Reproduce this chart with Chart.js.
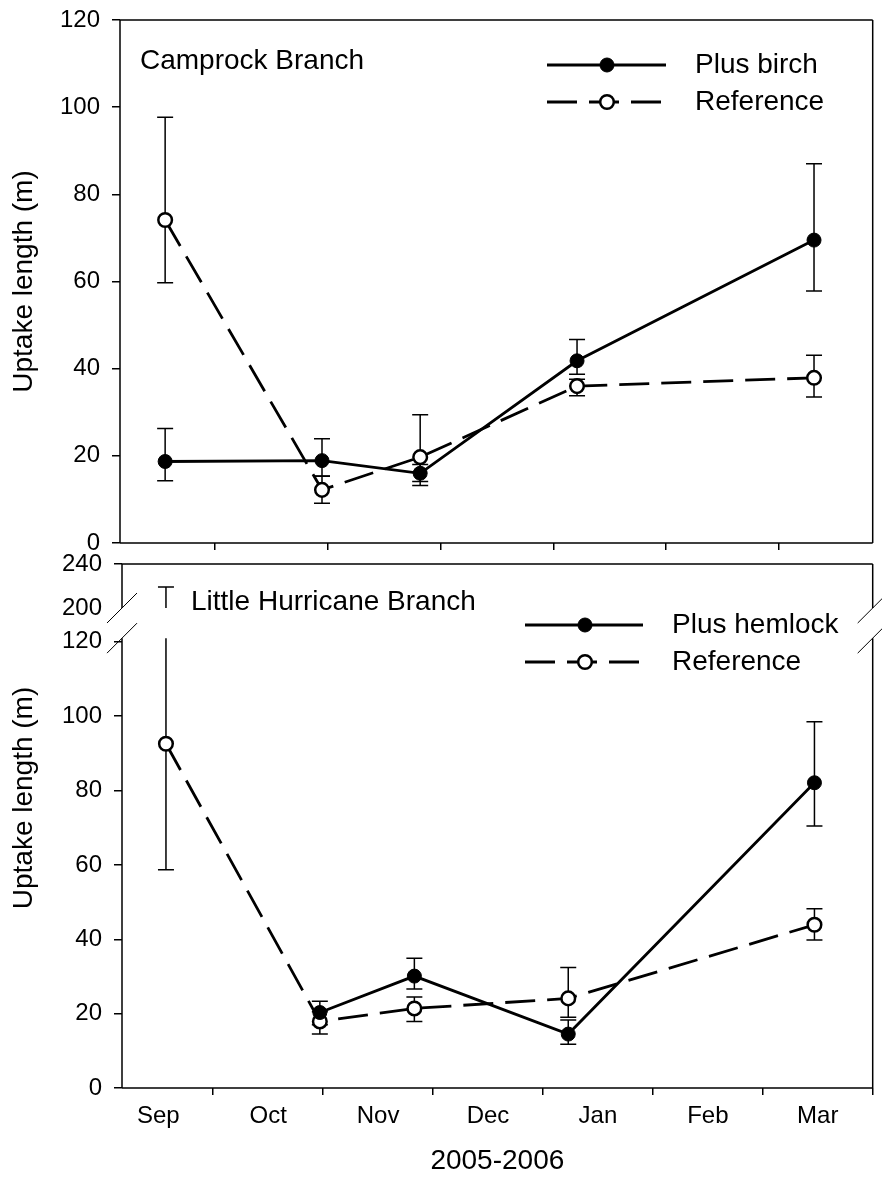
<!DOCTYPE html>
<html>
<head>
<meta charset="utf-8">
<script src="https://cdn.jsdelivr.net/npm/chart.js@4.4.1/dist/chart.umd.min.js"></script>
<style>
  html, body { margin: 0; padding: 0; background: #fff; }
  #wrap { position: relative; width: 882px; height: 1178px; }
  #topChart { position: absolute; left: 0; top: 0; }
  #bottomChart { position: absolute; left: 0; top: 548px; }
</style>
</head>
<body>
<div id="wrap">
  <canvas id="topChart" width="882" height="556"></canvas>
  <canvas id="bottomChart" width="882" height="630"></canvas>
</div>
<script>
// x values are months counted from 1 Sep 2005 (1 = Oct 1, 2 = Nov 1, ...)
var monthNames = ['Sep', 'Oct', 'Nov', 'Dec', 'Jan', 'Feb', 'Mar'];

// Camprock Branch
var campDates = [0.56, 1.95, 2.82, 4.21, 6.31];
var campBirch = [18.7, 18.9, 16.0, 41.8, 69.5];
var campBirchHi = [26.3, 23.9, 18.0, 46.7, 87.0];
var campBirchLo = [14.3, 15.4, 13.2, 38.7, 57.8];
var campRef = [74.1, 12.2, 19.7, 36.0, 37.9];
var campRefHi = [97.7, 15.3, 29.4, 37.6, 43.1];
var campRefLo = [59.7, 9.1, 14.1, 33.8, 33.5];

// Little Hurricane Branch
var lhDates = [0.57, 1.97, 2.83, 4.23, 6.47];
var lhHemlock = [null, 20.3, 30.1, 14.5, 82.1];
var lhHemlockHi = [null, 23.3, 34.9, 18.3, 98.5];
var lhHemlockLo = [null, 17.0, 26.6, 11.8, 70.5];
var lhRef = [92.6, 17.9, 21.4, 24.1, 43.9];
var lhRefHi = [219, 20.5, 24.5, 32.4, 48.2];
var lhRefLo = [58.7, 14.5, 17.9, 19.0, 39.8];

var topYTicks = [0, 20, 40, 60, 80, 100, 120];
var bottomYTicks = [0, 20, 40, 60, 80, 100, 120, 200, 240];

// broken y axis of the lower panel
var breakLow = 121, breakHigh = 200, breakGap = 8.1, upperScale = 0.296;
function toAxis(v) {
    if (v <= breakLow) return v;
    if (v >= breakHigh) return breakLow + breakGap + (v - breakHigh) * upperScale;
    return breakLow + (v - breakLow) / (breakHigh - breakLow) * breakGap;
}
function fromAxis(t) {
    if (t <= breakLow) return t;
    if (t >= breakLow + breakGap) return breakHigh + (t - breakLow - breakGap) / upperScale;
    return breakLow + (t - breakLow) / breakGap * (breakHigh - breakLow);
}
function same(v) { return v; }

var FONT = '"Liberation Sans", Arial, sans-serif';

function points(xs, ys, map) {
    var out = [];
    xs.forEach(function(x, i) {
        if (ys[i] != null) out.push({ x: x, y: map(ys[i]) });
    });
    return out;
}

function filledSet(label, xs, ys, map) {
    return {
        label: label, data: points(xs, ys, map),
        borderColor: '#000', borderWidth: 2.8,
        pointRadius: 7, pointBorderWidth: 1,
        pointBackgroundColor: '#000', pointBorderColor: '#000',
        tension: 0
    };
}
function openSet(label, xs, ys, map) {
    return {
        label: label, data: points(xs, ys, map),
        borderColor: '#000', borderWidth: 2.8, borderDash: [30, 12],
        pointRadius: 6.8, pointBorderWidth: 2.5,
        pointBackgroundColor: '#fff', pointBorderColor: '#000',
        tension: 0
    };
}

// keep the chart area exactly where the fixed axis sizes put it
function noScalePadding(scale) {
    scale.paddingTop = 0;
    scale.paddingBottom = 0;
    scale.paddingLeft = 0;
    scale.paddingRight = 0;
}

// error bars, split where the axis is broken
var errorBars = {
    id: 'errorBars',
    beforeDatasetsDraw: function(chart, args, opts) {
        var ctx = chart.ctx, xs = chart.scales.x, ys = chart.scales.y;
        var map = opts.map || same;
        ctx.save();
        ctx.strokeStyle = '#000';
        ctx.lineWidth = 1.5;
        ctx.setLineDash([]);
        opts.sets.forEach(function(set) {
            set.x.forEach(function(xv, i) {
                if (set.hi[i] == null) return;
                var px = xs.getPixelForValue(xv);
                var lo = set.lo[i], hi = set.hi[i];
                var segs = [];
                if (opts.broken && lo < breakLow && hi > breakHigh) {
                    segs.push([lo, breakLow, true, false]);
                    segs.push([breakHigh, hi, false, true]);
                } else {
                    segs.push([lo, hi, true, true]);
                }
                segs.forEach(function(s) {
                    var y1 = ys.getPixelForValue(map(s[0]));
                    var y2 = ys.getPixelForValue(map(s[1]));
                    ctx.beginPath();
                    ctx.moveTo(px, y1); ctx.lineTo(px, y2);
                    if (s[2]) { ctx.moveTo(px - 8, y1); ctx.lineTo(px + 8, y1); }
                    if (s[3]) { ctx.moveTo(px - 8, y2); ctx.lineTo(px + 8, y2); }
                    ctx.stroke();
                });
            });
        });
        ctx.restore();
    }
};

// frame, break marks, panel name and legend
var decorations = {
    id: 'decorations',
    afterDraw: function(chart, args, opts) {
        var ctx = chart.ctx, a = chart.chartArea, ys = chart.scales.y;
        ctx.save();
        ctx.strokeStyle = '#000';
        ctx.lineWidth = 1.5;
        ctx.setLineDash([]);
        ctx.beginPath();
        ctx.moveTo(a.left, a.top); ctx.lineTo(a.right, a.top);
        ctx.moveTo(a.left, a.bottom); ctx.lineTo(a.right, a.bottom);
        if (opts.broken) {
            var yb1 = ys.getPixelForValue(toAxis(breakHigh));
            var yb2 = ys.getPixelForValue(toAxis(breakLow));
            [a.left, a.right].forEach(function(x) {
                ctx.moveTo(x, a.top); ctx.lineTo(x, yb1);
                ctx.moveTo(x, yb2); ctx.lineTo(x, a.bottom);
            });
            ctx.stroke();
            ctx.lineWidth = 1;
            ctx.beginPath();
            [a.left, a.right].forEach(function(x) {
                [yb1, yb2].forEach(function(y) {
                    ctx.moveTo(x - 15, y + 15); ctx.lineTo(x + 15, y - 15);
                });
            });
            ctx.stroke();
        } else {
            ctx.moveTo(a.left, a.top); ctx.lineTo(a.left, a.bottom);
            ctx.moveTo(a.right, a.top); ctx.lineTo(a.right, a.bottom);
            ctx.stroke();
        }

        ctx.fillStyle = '#000';
        ctx.font = '28px ' + FONT;
        ctx.textAlign = 'left';
        ctx.textBaseline = 'middle';
        ctx.fillText(opts.name, opts.nameX, opts.nameY);

        if (opts.yTitle) {
            ctx.save();
            ctx.translate(opts.yTitle.x, opts.yTitle.y);
            ctx.rotate(-Math.PI / 2);
            ctx.textAlign = 'center';
            ctx.fillText(opts.yTitle.text, 0, 0);
            ctx.restore();
        }

        var lg = opts.legend;
        chart.data.datasets.forEach(function(ds, i) {
            var y = lg.y + i * lg.dy;
            ctx.strokeStyle = '#000';
            ctx.lineWidth = ds.borderWidth;
            ctx.setLineDash(ds.borderDash || []);
            ctx.beginPath();
            ctx.moveTo(lg.x0, y); ctx.lineTo(lg.x1, y);
            ctx.stroke();
            ctx.setLineDash([]);
            ctx.beginPath();
            ctx.arc(lg.xm, y, ds.pointRadius, 0, Math.PI * 2);
            ctx.fillStyle = ds.pointBackgroundColor;
            ctx.fill();
            ctx.lineWidth = ds.pointBorderWidth;
            ctx.strokeStyle = ds.pointBorderColor;
            ctx.stroke();
            ctx.fillStyle = '#000';
            ctx.fillText(ds.label, lg.tx, y);
        });
        ctx.restore();
    }
};

function tickMarkColor(c) {
    return Number.isInteger(c.tick.value) ? '#000' : 'rgba(0,0,0,0)';
}

// top panel
new Chart(document.getElementById('topChart').getContext('2d'), {
    type: 'line',
    data: {
        datasets: [
            filledSet('Plus birch', campDates, campBirch, same),
            openSet('Reference', campDates, campRef, same)
        ]
    },
    options: {
        responsive: false,
        animation: false,
        layout: { padding: { top: 20, right: 8, bottom: 0, left: 0 } },
        scales: {
            x: {
                type: 'linear', min: 0.16, max: 6.83,
                afterBuildTicks: function(scale) {
                    scale.ticks = [1, 2, 3, 4, 5, 6].map(function(v) { return { value: v }; });
                },
                afterFit: function(scale) { scale.height = 13; noScalePadding(scale); },
                border: { display: false },
                grid: { drawOnChartArea: false, tickLength: 7, lineWidth: 1.5, tickColor: '#000' },
                ticks: { autoSkip: false, maxRotation: 0, callback: function() { return ''; } }
            },
            y: {
                min: 0, max: 120,
                afterBuildTicks: function(scale) {
                    scale.ticks = topYTicks.map(function(v) { return { value: v }; });
                },
                afterFit: function(scale) { scale.width = 120; noScalePadding(scale); },
                border: { display: false },
                grid: { drawOnChartArea: false, tickLength: 8, lineWidth: 1.5, tickColor: '#000' },
                ticks: { padding: 12, color: '#000', font: { size: 24, family: FONT } },
                title: {
                    display: true, text: 'Uptake length (m)', color: '#000',
                    font: { size: 28, family: FONT }, padding: { top: 7, bottom: 0 }
                }
            }
        },
        plugins: {
            legend: { display: false },
            tooltip: { enabled: false },
            errorBars: {
                sets: [
                    { x: campDates, hi: campBirchHi, lo: campBirchLo },
                    { x: campDates, hi: campRefHi, lo: campRefLo }
                ]
            },
            decorations: {
                name: 'Camprock Branch', nameX: 140, nameY: 61,
                legend: { x0: 547, x1: 666, xm: 607, tx: 695, y: 65, dy: 37 }
            }
        }
    },
    plugins: [errorBars, decorations]
});

// bottom panel
new Chart(document.getElementById('bottomChart').getContext('2d'), {
    type: 'line',
    data: {
        datasets: [
            filledSet('Plus hemlock', lhDates, lhHemlock, toAxis),
            openSet('Reference', lhDates, lhRef, toAxis)
        ]
    },
    options: {
        responsive: false,
        animation: false,
        layout: { padding: { top: 16, right: 9, bottom: 0, left: 0 } },
        scales: {
            x: {
                type: 'linear', min: 0.17, max: 7,
                afterBuildTicks: function(scale) {
                    var t = [];
                    monthNames.forEach(function(m, i) {
                        t.push({ value: i + 0.5 });
                        t.push({ value: i + 1 });
                    });
                    scale.ticks = t;
                },
                afterFit: function(scale) { scale.height = 90; noScalePadding(scale); },
                border: { display: false },
                grid: { drawOnChartArea: false, tickLength: 7, lineWidth: 1.5, tickColor: tickMarkColor },
                ticks: {
                    autoSkip: false, maxRotation: 0, padding: 7, color: '#000',
                    font: { size: 24, family: FONT },
                    callback: function(v) {
                        return Number.isInteger(v) ? '' : monthNames[Math.floor(v)];
                    }
                },
                title: {
                    display: true, text: '2005-2006', color: '#000',
                    font: { size: 28, family: FONT }, padding: { top: 0, bottom: 0 }
                }
            },
            y: {
                min: 0, max: toAxis(240),
                afterBuildTicks: function(scale) {
                    scale.ticks = bottomYTicks.map(function(v) { return { value: toAxis(v) }; });
                },
                afterFit: function(scale) { scale.width = 122; noScalePadding(scale); },
                border: { display: false },
                grid: {
                    drawOnChartArea: false, tickLength: 8, lineWidth: 1.5,
                    tickColor: function(c) {
                        return Math.abs(c.tick.value - toAxis(breakHigh)) < 0.01 ? 'rgba(0,0,0,0)' : '#000';
                    }
                },
                ticks: {
                    padding: 12, color: '#000', font: { size: 24, family: FONT },
                    callback: function(v) { return Math.round(fromAxis(v)); }
                }
            }
        },
        plugins: {
            legend: { display: false },
            tooltip: { enabled: false },
            errorBars: {
                map: toAxis, broken: true,
                sets: [
                    { x: lhDates, hi: lhHemlockHi, lo: lhHemlockLo },
                    { x: lhDates, hi: lhRefHi, lo: lhRefLo }
                ]
            },
            decorations: {
                broken: true,
                name: 'Little Hurricane Branch', nameX: 191, nameY: 54,
                yTitle: { text: 'Uptake length (m)', x: 24, y: 250 },
                legend: { x0: 525, x1: 643, xm: 585, tx: 672, y: 77, dy: 37 }
            }
        }
    },
    plugins: [errorBars, decorations]
});
</script>
</body>
</html>
